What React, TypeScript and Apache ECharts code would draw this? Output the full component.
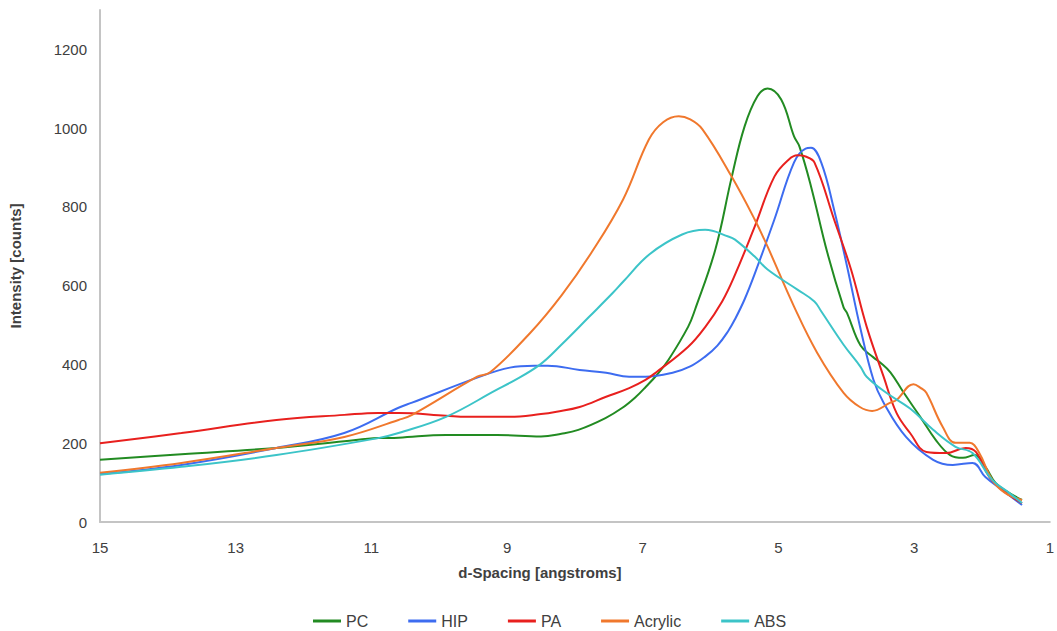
import React, { useEffect, useRef } from "react";
import * as echarts from "echarts";

const seriesNames = ["PC", "HIP", "PA", "Acrylic", "ABS"];
const seriesColors = ["#228b22", "#3d6cf0", "#e8201e", "#f0782d", "#3cc4c8"];

const xTicks = [15, 13, 11, 9, 7, 5, 3, 1];
const yTicks = [0, 200, 400, 600, 800, 1000, 1200];

const pc: [number, number][] = [
  [15.0, 158], [13.8, 172], [12.4, 188], [11.4, 205], [10.9, 213], [10.6, 214], [9.9, 221],
  [9.15, 221], [8.5, 217], [8.2, 224], [7.95, 234], [7.55, 264], [7.3, 290], [7.1, 318],
  [6.95, 344], [6.8, 372], [6.62, 412], [6.33, 496], [6.23, 539], [5.93, 692], [5.69, 875],
  [5.5, 1004], [5.31, 1081], [5.16, 1101], [4.96, 1073], [4.77, 979], [4.69, 953], [4.52, 852],
  [4.28, 684], [4.04, 545], [3.99, 531], [3.79, 448], [3.6, 418], [3.5, 405], [3.35, 380],
  [3.16, 330], [2.91, 267], [2.68, 208], [2.47, 170], [2.28, 163], [2.11, 170], [1.95, 140],
  [1.8, 99], [1.6, 74], [1.41, 56],
];

const hip: [number, number][] = [
  [15.0, 122], [13.8, 145], [12.4, 188], [11.4, 226], [10.6, 290], [10.4, 303], [9.4, 369],
  [8.96, 392], [8.6, 397], [8.4, 397], [7.93, 386], [7.54, 379], [7.2, 369], [6.96, 369],
  [6.56, 379], [6.3, 395], [6.08, 420], [5.9, 448], [5.74, 485], [5.64, 515], [5.5, 565],
  [5.35, 630], [5.06, 768], [4.77, 913], [4.6, 948], [4.52, 950], [4.37, 913], [4.18, 793],
  [3.99, 650], [3.79, 490], [3.6, 361], [3.45, 303], [3.12, 216], [2.72, 158], [2.43, 145],
  [2.14, 150], [1.95, 114], [1.7, 81], [1.41, 43],
];

const pa: [number, number][] = [
  [15.0, 200], [13.8, 226], [12.4, 259], [11.4, 272], [10.9, 277], [10.6, 277], [9.9, 270],
  [9.6, 267], [8.96, 267], [8.5, 274], [8.27, 280], [7.93, 292], [7.54, 318], [7.2, 340],
  [6.96, 361], [6.81, 379], [6.33, 445], [6.08, 495], [5.83, 560], [5.64, 628], [5.35, 750],
  [5.06, 877], [4.85, 920], [4.72, 931], [4.6, 928], [4.47, 913], [4.18, 768], [3.93, 641],
  [3.7, 496], [3.45, 369], [3.26, 277], [3.06, 226], [2.82, 178], [2.53, 175], [2.24, 188],
  [2.09, 178], [1.89, 114], [1.66, 76], [1.41, 48],
];

const acrylic: [number, number][] = [
  [15.0, 125], [13.8, 150], [12.4, 188], [11.4, 216], [10.6, 259], [10.4, 272], [9.44, 369],
  [9.25, 380], [8.66, 480], [8.2, 575], [7.76, 683], [7.29, 819], [6.91, 971],
  [6.7, 1015], [6.47, 1030], [6.3, 1022], [6.12, 997], [5.69, 877], [5.35, 768], [5.16, 699],
  [4.77, 547], [4.43, 430], [4.04, 328], [3.8, 292], [3.62, 282], [3.35, 303], [3.26, 310],
  [3.01, 350], [2.9, 340], [2.82, 328], [2.58, 242], [2.39, 201], [2.18, 201], [2.04, 175],
  [1.85, 107], [1.66, 74], [1.41, 56],
];

const abs: [number, number][] = [
  [15.0, 120], [13.8, 140], [12.4, 170], [10.9, 213], [10.6, 226], [9.9, 267], [9.15, 336],
  [8.96, 353], [8.52, 399], [8.2, 450], [7.79, 521], [7.44, 582], [7.29, 610],
  [6.9, 680], [6.42, 730], [6.08, 742], [5.74, 725], [5.64, 717], [5.35, 674], [5.16, 641],
  [4.72, 590], [4.47, 560], [4.37, 535], [4.04, 450], [3.79, 394], [3.7, 369], [3.41, 328],
  [3.06, 288], [2.72, 234], [2.39, 191], [2.14, 175], [1.85, 107], [1.6, 74], [1.41, 48],
];

const seriesData = [pc, hip, pa, acrylic, abs];

const FONT = "'Liberation Sans', Arial, sans-serif";

export default function App() {
  const ref = useRef<HTMLDivElement>(null);

  useEffect(() => {
    if (!ref.current) return;
    const chart = echarts.init(ref.current, null, { renderer: "svg" });
    chart.setOption({
      animation: false,
      backgroundColor: "#ffffff",
      textStyle: { fontFamily: FONT },
      grid: { left: 96, right: 0, top: 10, bottom: 109, containLabel: false },
      legend: {
        data: seriesNames,
        left: 313,
        top: 612,
        padding: 0,
        itemWidth: 28,
        itemHeight: 3,
        itemGap: 40,
        icon: "rect",
        textStyle: { fontSize: 16, lineHeight: 18, color: "#404040", fontFamily: FONT },
      },
      xAxis: {
        type: "value",
        inverse: true,
        min: 1,
        max: 15,
        name: "d-Spacing [angstroms]",
        nameLocation: "middle",
        nameGap: 43,
        nameTextStyle: {
          fontSize: 15,
          fontWeight: "bold",
          color: "#404040",
          fontFamily: FONT,
          padding: [0, 70, 0, 0],
        },
        axisLine: { show: true, lineStyle: { color: "#c4c4c4", width: 2 } },
        axisTick: { show: false },
        splitLine: { show: false },
        axisLabel: {
          customValues: xTicks,
          fontSize: 15,
          color: "#404040",
          margin: 18,
          fontFamily: FONT,
          formatter: (v: number) => String(v),
        },
      },
      yAxis: {
        type: "value",
        min: 0,
        max: 1300,
        name: "Intensity [counts]",
        nameLocation: "middle",
        nameGap: 77,
        nameRotate: 90,
        nameTextStyle: { fontSize: 15, fontWeight: "bold", color: "#404040", fontFamily: FONT },
        axisLine: { show: true, lineStyle: { color: "#c4c4c4", width: 2 } },
        axisTick: { show: false },
        splitLine: { show: false },
        axisLabel: {
          customValues: yTicks,
          fontSize: 15,
          color: "#404040",
          margin: 13,
          fontFamily: FONT,
          formatter: (v: number) => String(v),
        },
      },
      series: seriesNames.map((name, i) => ({
        name,
        type: "line",
        data: seriesData[i],
        showSymbol: false,
        smooth: 0.4,
        lineStyle: { width: 2, color: seriesColors[i] },
        itemStyle: { color: seriesColors[i] },
      })),
    });
    return () => chart.dispose();
  }, []);

  return (
    <div
      ref={ref}
      style={{ position: "absolute", left: 0, top: 0, width: 1057, height: 631 }}
    />
  );
}
